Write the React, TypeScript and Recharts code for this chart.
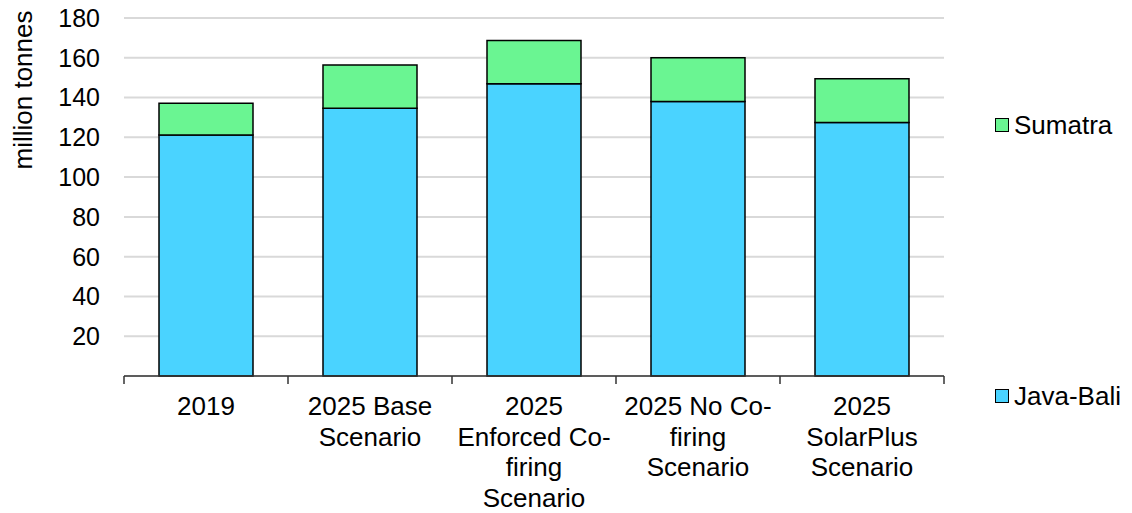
import React from 'react';
import { BarChart, Bar, XAxis, YAxis, CartesianGrid, Legend, Label } from 'recharts';

const categories = [
  '2019',
  '2025 Base Scenario',
  '2025 Enforced Co-firing Scenario',
  '2025 No Co-firing Scenario',
  '2025 SolarPlus Scenario',
];
const tickLabels = [
  ['2019'],
  ['2025 Base', 'Scenario'],
  ['2025', 'Enforced Co-', 'firing', 'Scenario'],
  ['2025 No Co-', 'firing', 'Scenario'],
  ['2025', 'SolarPlus', 'Scenario'],
];
const javaBali = [121.2, 134.6, 146.9, 138.0, 127.5];
const sumatra = [15.9, 21.8, 21.8, 22.0, 22.0];
const yTicks = [20, 40, 60, 80, 100, 120, 140, 160, 180];

const data = categories.map((c, i) => ({ name: c, javaBali: javaBali[i], sumatra: sumatra[i] }));

const FONT = '"Liberation Sans", Arial, sans-serif';
const W = 1132;
const H = 513;
const MARGIN = { top: 18, right: 188, left: 0, bottom: 0 };
const Y_W = 124;
const X_H = 137;
const BAND = (W - MARGIN.right - MARGIN.left - Y_W) / categories.length;

const COLORS = { javaBali: '#4AD3FF', sumatra: '#6AF592' };

const XTick = (props: any) => {
  const { x, y, payload, index } = props;
  const lines = tickLabels[payload.index ?? index] || [String(payload.value)];
  const left = x - BAND / 2;
  const right = x + BAND / 2;
  const isLast = (payload.index ?? index) === categories.length - 1;
  return (
    <g>
      <line x1={left} x2={left} y1={y} y2={y + 8} stroke="#333" strokeWidth={1.5} />
      {isLast && <line x1={right} x2={right} y1={y} y2={y + 8} stroke="#333" strokeWidth={1.5} />}
      <text x={x} y={y + 39} textAnchor="middle" fontFamily={FONT} fontSize={26} fill="#000">
        {lines.map((l: string, i: number) => (
          <tspan key={i} x={x} dy={i === 0 ? 0 : 30.5}>
            {l}
          </tspan>
        ))}
      </text>
    </g>
  );
};

const LegendContent = (props: any) => {
  const payload = props.payload || [];
  const find = (key: string) => payload.find((p: any) => p.dataKey === key);
  const items = [
    { key: 'sumatra', top: 118 },
    { key: 'javaBali', top: 389 },
  ];
  return (
    <div style={{ position: 'relative', width: W, height: H }}>
      {items.map((it) => {
        const p = find(it.key);
        if (!p) return null;
        return (
          <div
            key={it.key}
            style={{
              position: 'absolute',
              left: 995,
              top: it.top - 6,
              height: 26,
              display: 'flex',
              alignItems: 'center',
              fontFamily: FONT,
              fontSize: 26,
              color: '#000',
              whiteSpace: 'nowrap',
            }}
          >
            <span
              style={{
                display: 'inline-block',
                width: 12,
                height: 12,
                background: p.color,
                border: '1.5px solid #000',
                marginRight: 5,
              }}
            />
            <span>{p.value}</span>
          </div>
        );
      })}
    </div>
  );
};

const AxisTitle = () => (
  <text
    x={23}
    y={90}
    transform="rotate(-90 23 90)"
    textAnchor="middle"
    dominantBaseline="central"
    fontFamily={FONT}
    fontSize={26}
    fill="#000"
  >
    million tonnes
  </text>
);

export default function App() {
  return (
    <div style={{ position: 'absolute', left: 0, top: 0, width: W, height: H, background: '#fff' }}>
      <BarChart width={W} height={H} data={data} margin={MARGIN} barSize={94}>
        <CartesianGrid horizontal vertical={false} stroke="#d9d9d9" strokeWidth={2} />
        <XAxis
          dataKey="name"
          height={X_H}
          interval={0}
          tickLine={false}
          tickSize={0}
          tickMargin={0}
          axisLine={{ stroke: '#333', strokeWidth: 1.5 }}
          tick={<XTick />}
        />
        <YAxis
          width={Y_W}
          domain={[0, 180]}
          ticks={yTicks}
          axisLine={false}
          tickLine={false}
          tickSize={0}
          tickMargin={24}
          tick={{ fontFamily: FONT, fontSize: 25, fill: '#000' }}
        >
          <Label content={<AxisTitle />} />
        </YAxis>
        <Legend
          layout="vertical"
          align="center"
          verticalAlign="middle"
          wrapperStyle={{ position: 'absolute', left: 0, top: 0, width: W, height: H, pointerEvents: 'none' }}
          content={<LegendContent />}
        />
        <Bar dataKey="javaBali" name="Java-Bali" stackId="a" fill={COLORS.javaBali} stroke="#000" strokeWidth={1.5} isAnimationActive={false} />
        <Bar dataKey="sumatra" name="Sumatra" stackId="a" fill={COLORS.sumatra} stroke="#000" strokeWidth={1.5} isAnimationActive={false} />
      </BarChart>
    </div>
  );
}
